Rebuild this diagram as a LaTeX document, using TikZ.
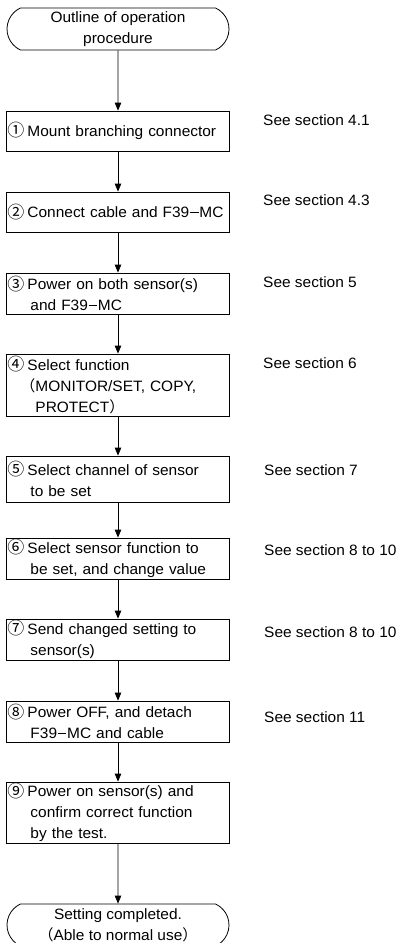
\documentclass[tikz,border=0pt]{standalone}
\usepackage{fontspec}
\setmainfont{Liberation Sans}[FakeStretch=1.03]
\newfontfamily\cjk{Noto Sans CJK JP}
\usetikzlibrary{arrows.meta,shapes.misc}
\newcommand{\cn}[1]{\makebox[20pt][l]{\raisebox{-0.5pt}{\fontsize{17}{21}\selectfont\cjk #1}}}
\newcommand{\ind}{\hspace*{23pt}}
\newcommand{\fm}{\hspace{0.8pt}\rule[4.6pt]{8.5pt}{1pt}\hspace{0.8pt}}
\begin{document}
\begin{tikzpicture}[x=1pt,y=-1pt,font=\fontsize{15}{21}\selectfont,
  stepbox/.style={draw, line width=0.8pt, text width=221pt, inner xsep=1pt, inner ysep=0pt, align=left},
  term/.style={draw, line width=0.8pt, rounded rectangle, rounded rectangle arc length=130, minimum width=222pt, minimum height=42pt, align=center, inner sep=0pt},
  conn/.style={-{Triangle[length=8pt,width=6.5pt]}, line width=0.8pt},
  lab/.style={anchor=west, inner sep=0pt}]
\useasboundingbox (0,0) rectangle (407,943);
\node[term] (t0) at (118,29) {Outline of operation\\procedure};
\node[stepbox, minimum height=40pt] (s1) at (118,131) {\cn{①}Mount branching connector};
\node[stepbox, minimum height=40pt] (s2) at (118,212) {\cn{②}Connect cable and F39\fm MC};
\node[stepbox, minimum height=41pt] (s3) at (118,293.5) {\cn{③}Power on both sensor(s)\\\ind and F39\fm MC};
\node[stepbox, minimum height=62pt] (s4) at (118,385) {\cn{④}Select function\\\hspace*{13pt}{\cjk （}MONITOR/SET, COPY,\\\hspace*{28pt}PROTECT{\cjk ）}};
\node[stepbox, minimum height=46pt] (s5) at (118,479) {\cn{⑤}Select channel of sensor\\\ind to be set};
\node[stepbox, minimum height=41pt] (s6) at (118,558.5) {\cn{⑥}Select sensor function to\\\ind be set, and change value};
\node[stepbox, minimum height=41pt] (s7) at (118,639.5) {\cn{⑦}Send changed setting to\\\ind sensor(s)};
\node[stepbox, minimum height=41pt] (s8) at (118,721.5) {\cn{⑧}Power OFF, and detach\\\ind F39\fm MC and cable};
\node[stepbox, minimum height=61pt] (s9) at (118,812.5) {\cn{⑨}Power on sensor(s) and\\\ind confirm correct function\\\ind by the test.};
\node[term] (t10) at (118,925) {Setting completed.\\{\cjk （}Able to normal use{\cjk ）}};
\draw[conn] (t0) -- (s1);
\draw[conn] (s1) -- (s2);
\draw[conn] (s2) -- (s3);
\draw[conn] (s3) -- (s4);
\draw[conn] (s4) -- (s5);
\draw[conn] (s5) -- (s6);
\draw[conn] (s6) -- (s7);
\draw[conn] (s7) -- (s8);
\draw[conn] (s8) -- (s9);
\draw[conn] (s9) -- (t10);
\node[lab] (l1) at (263,120) {See section 4.1};
\node[lab] (l2) at (263,200) {See section 4.3};
\node[lab] (l3) at (263,282) {See section 5};
\node[lab] (l4) at (263,363) {See section 6};
\node[lab] (l5) at (264,470) {See section 7};
\node[lab] (l6) at (264,550) {See section 8 to 10};
\node[lab] (l7) at (264,632) {See section 8 to 10};
\node[lab] (l8) at (264,717) {See section 11};
\end{tikzpicture}
\end{document}
